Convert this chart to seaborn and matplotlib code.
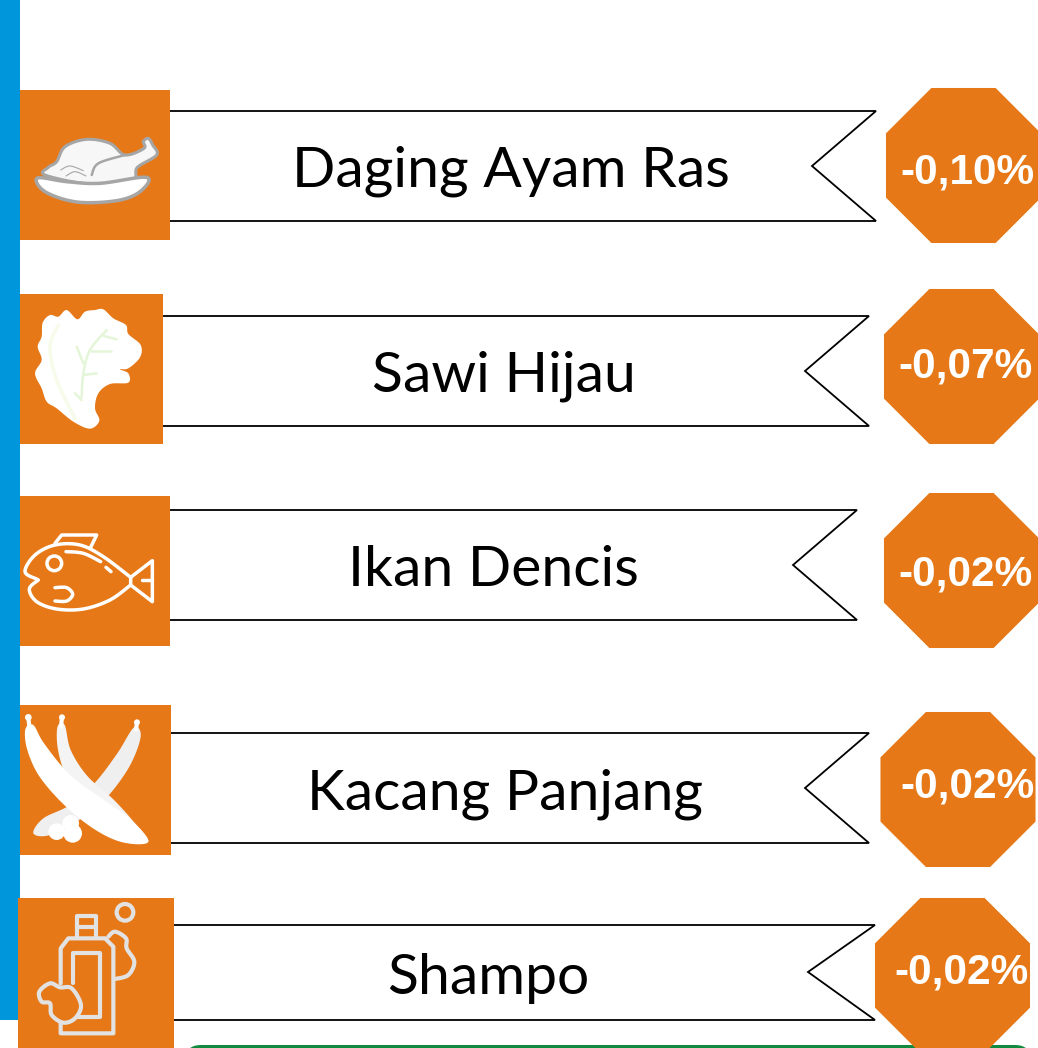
import numpy as np
import pandas as pd
import matplotlib
matplotlib.use("Agg")
import matplotlib.pyplot as plt
from matplotlib.patches import Polygon, Rectangle, Circle, FancyBboxPatch
import seaborn as sns

# Data
items = ["Daging Ayam Ras", "Sawi Hijau", "Ikan Dencis", "Kacang Panjang", "Shampo"]
changes = [-0.10, -0.07, -0.02, -0.02, -0.02]

# Layout in pixels (image coords, y down)
box_left = [20, 20, 20, 20, 18]
box_right = [170, 163, 170, 171, 174]
box_top = [90, 294, 496, 705, 898]
box_bottom = [240, 444, 646, 855, 1048]
rib_top = [111, 316, 510, 733, 925]
rib_bottom = [221, 426, 620, 843, 1020]
rib_tip = [876, 869, 857, 869, 875]
rib_notch = [812, 805, 793, 805, 808]
text_x = [511, 504, 493, 505, 488]
text_y = [171, 376, 570, 794, 978]
oct_x = [963.5, 961.5, 961.5, 958, 952.5]
oct_y = [165.5, 366.5, 570.5, 789.5, 975.5]
val_x = [967, 965, 965, 967, 962]
val_y = [173, 367, 575, 786, 972]

ORANGE = "#E67817"
BLUE = "#0096DC"
GREEN = "#0F8A3E"

sns.set_theme(style="white")
plt.rcParams["font.family"] = ["Lato", "DejaVu Sans"]

fig = plt.figure(figsize=(10.38, 10.48), dpi=100)
ax = fig.add_axes([0, 0, 1, 1])


def zoomed(pts, oy, ox=0):
    return [(x / 3 + ox, y / 3 + oy) for x, y in pts]


def smooth(pts, closed=True, steps=8):
    # Catmull-Rom, goes through every point
    pts = np.array(pts, dtype=float)
    if closed:
        p = np.vstack([pts[-1:], pts, pts[:2]])
    else:
        p = np.vstack([pts[:1], pts, pts[-1:]])
    out = []
    t = np.linspace(0, 1, steps, endpoint=False)[:, None]
    for i in range(1, len(p) - 2):
        a, b, c, d = p[i - 1], p[i], p[i + 1], p[i + 2]
        out.append(0.5 * (2 * b + (c - a) * t + (2 * a - 5 * b + 4 * c - d) * t ** 2
                          + (3 * b - a - 3 * c + d) * t ** 3))
    out = np.vstack(out)
    return out if closed else np.vstack([out, pts[-1:]])


def blob(pts, oy, fc, ec="none", lw=0, ox=0, z=4):
    ax.add_patch(Polygon(smooth(zoomed(pts, oy, ox), True), closed=True, fc=fc, ec=ec, lw=lw, zorder=z))


def line(pts, oy, color, lw, ox=0, z=5, curved=True):
    xy = smooth(zoomed(pts, oy, ox), False) if curved else np.array(zoomed(pts, oy, ox))
    ax.plot(xy[:, 0], xy[:, 1], color=color, lw=lw, solid_capstyle="round", solid_joinstyle="round", zorder=z)


def dot(x, y, r, oy, fc, ec="none", lw=0, z=5):
    ax.add_patch(Circle((x / 3, y / 3 + oy), r / 3, fc=fc, ec=ec, lw=lw, zorder=z))


# left stripe and green box peeking in at the bottom
ax.add_patch(Rectangle((0, 0), 20, 1020, fc=BLUE, ec="none", zorder=1))
ax.add_patch(FancyBboxPatch((185, 1045), 846, 40, boxstyle="round,pad=0,rounding_size=16",
                            fc=GREEN, ec="none", zorder=1))

# ribbons and icon boxes
for i, name in enumerate(items):
    mid = (rib_top[i] + rib_bottom[i]) / 2
    if i == 4:
        mid = 972
    left = box_right[i] - 6
    ax.add_patch(Polygon([(left, rib_top[i]), (rib_tip[i], rib_top[i]), (rib_notch[i], mid),
                          (rib_tip[i], rib_bottom[i]), (left, rib_bottom[i])],
                         closed=True, fc="white", ec="black", lw=1.3, zorder=2))
    ax.add_patch(Rectangle((box_left[i], box_top[i]), box_right[i] - box_left[i], box_bottom[i] - box_top[i],
                           fc=ORANGE, ec="none", zorder=3))
    ax.text(text_x[i], text_y[i], name, fontsize=41, color="black", ha="center", va="center", zorder=6)

# octagon badges
df = pd.DataFrame({"item": items, "change": changes, "x": oct_x, "y": oct_y})
sns.scatterplot(data=df, x="x", y="y", marker="8", s=14600, color=ORANGE, edgecolor="none",
                linewidth=0, legend=False, ax=ax, zorder=3)
for i, v in enumerate(changes):
    label = f"{v:.2f}%".replace(".", ",")
    ax.text(val_x[i], val_y[i], label, fontsize=30.5, fontweight="bold", color="white",
            family=["Liberation Sans", "DejaVu Sans"], ha="center", va="center", zorder=6)

# chicken
GREY = "#A6A6A6"
oy = 80
blob([(135, 285), (145, 262), (170, 245), (195, 200), (260, 178), (330, 190), (375, 225), (432, 205), (430, 185),
      (445, 175), (458, 195), (470, 225), (412, 262), (395, 300), (270, 312)], oy, "#F7F7F7", GREY, 2.2)
line([(275, 285), (295, 250), (375, 225)], oy, GREY, 1.8)
line([(182, 270), (210, 258), (250, 272)], oy, GREY, 0.8)
line([(198, 288), (225, 275), (258, 288)], oy, GREY, 0.8)
blob([(112, 294), (200, 305), (300, 310), (440, 292), (420, 335), (350, 362), (230, 366), (135, 335)],
     oy, "white", GREY, 2.5, z=5)

# lettuce
oy = 80
blob([(128, 728), (150, 705), (175, 710), (200, 690), (232, 718), (255, 695), (285, 690), (310, 688), (340, 715),
      (378, 735), (385, 762), (422, 795), (420, 832), (385, 865), (360, 868), (385, 880), (385, 908), (330, 912),
      (295, 940), (285, 985), (298, 1022), (270, 1046), (220, 1025), (170, 985), (140, 965), (125, 925), (105, 880),
      (125, 840), (113, 800), (125, 770)], oy, "white")
line([(175, 735), (150, 800), (170, 900), (225, 1015)], oy, "#F6FBEA", 2.5)
VEIN = "#E4F5D8"
line([(320, 750), (270, 810), (250, 880), (245, 950)], oy, VEIN, 1.8)
line([(230, 800), (250, 850)], oy, VEIN, 1.8, curved=False)
line([(332, 812), (272, 812)], oy, VEIN, 1.8, curved=False)
line([(290, 880), (250, 885)], oy, VEIN, 1.8, curved=False)
line([(225, 940), (245, 960)], oy, VEIN, 1.8, curved=False)
line([(350, 778), (312, 768)], oy, VEIN, 1.8, curved=False)

# fish
oy = 490
W = 2.5
line([(112, 268), (75, 245), (105, 195), (165, 165), (240, 165), (310, 200), (392, 262)], oy, "white", W)
line([(392, 285), (330, 330), (250, 357), (170, 357), (110, 335), (88, 297), (115, 270)], oy, "white", W)
line([(392, 262), (457, 212), (457, 335), (392, 285), (392, 262)], oy, "white", W, curved=False)
line([(425, 270), (457, 270)], oy, "white", W, curved=False)
line([(165, 160), (185, 135), (290, 135), (272, 172)], oy, "white", W, curved=False)
dot(163, 220, 22, oy, "none", "white", W)
line([(165, 293), (200, 293), (218, 313), (200, 333), (165, 333)], oy, "white", W)
line([(198, 185), (250, 190), (302, 215)], oy, "white", W)
line([(318, 232), (333, 245)], oy, "white", W, curved=False)

# long beans
oy = 490
BEAN = "#F4F4F4"
blob([(402, 712), (422, 740), (388, 830), (318, 925), (245, 985), (150, 1035), (100, 1030), (130, 985), (210, 945),
      (285, 878), (352, 790)], oy, "#EFEFEF")
blob([(172, 712), (194, 705), (212, 780), (262, 858), (340, 928), (405, 1000), (445, 1055), (380, 1050), (295, 988),
      (212, 888), (176, 790)], oy, BEAN)
blob([(76, 718), (100, 705), (132, 760), (210, 855), (305, 925), (392, 988), (445, 1055), (372, 1058), (290, 1022),
      (200, 952), (120, 862), (82, 780)], oy, "white", z=5)
for x, y, r in [(85, 682, 10), (186, 682, 9), (411, 697, 9)]:
    dot(x, y, r, oy, "white")
line([(85, 682), (88, 710)], oy, "white", 3, curved=False)
line([(186, 682), (183, 710)], oy, "white", 3, curved=False)
line([(411, 697), (408, 718)], oy, "white", 3, curved=False)
for x, y, r in [(170, 1025, 25), (218, 1030, 28), (212, 1000, 25)]:
    dot(x, y, r, oy, "white", z=6)

# shampoo bottle
oy = 890
LINE = "#E2E2E2"
S = 3
line([(182, 280), (182, 175), (205, 145), (315, 145), (340, 170), (340, 430), (182, 430), (182, 395)], oy, LINE, S, curved=False)
line([(232, 145), (232, 78), (288, 78), (288, 145)], oy, LINE, S, curved=False)
line([(232, 110), (288, 110)], oy, LINE, S, curved=False)
line([(220, 280), (220, 190), (300, 190), (300, 380), (235, 380)], oy, LINE, S, curved=False)
dot(375, 67, 25, oy, "none", LINE, S)
line([(325, 140), (345, 125), (378, 145), (380, 175), (403, 215), (385, 255), (345, 267)], oy, LINE, S)
blob([(118, 305), (150, 280), (180, 292), (215, 295), (243, 345), (225, 385), (190, 398), (155, 375), (150, 340),
      (125, 335)], oy, ORANGE, LINE, S, z=6)

ax.set_xlim(0, 1038)
ax.set_ylim(1048, 0)
ax.set_xlabel("")
ax.set_ylabel("")
ax.axis("off")

plt.savefig("out.png", dpi=100)
plt.close()
